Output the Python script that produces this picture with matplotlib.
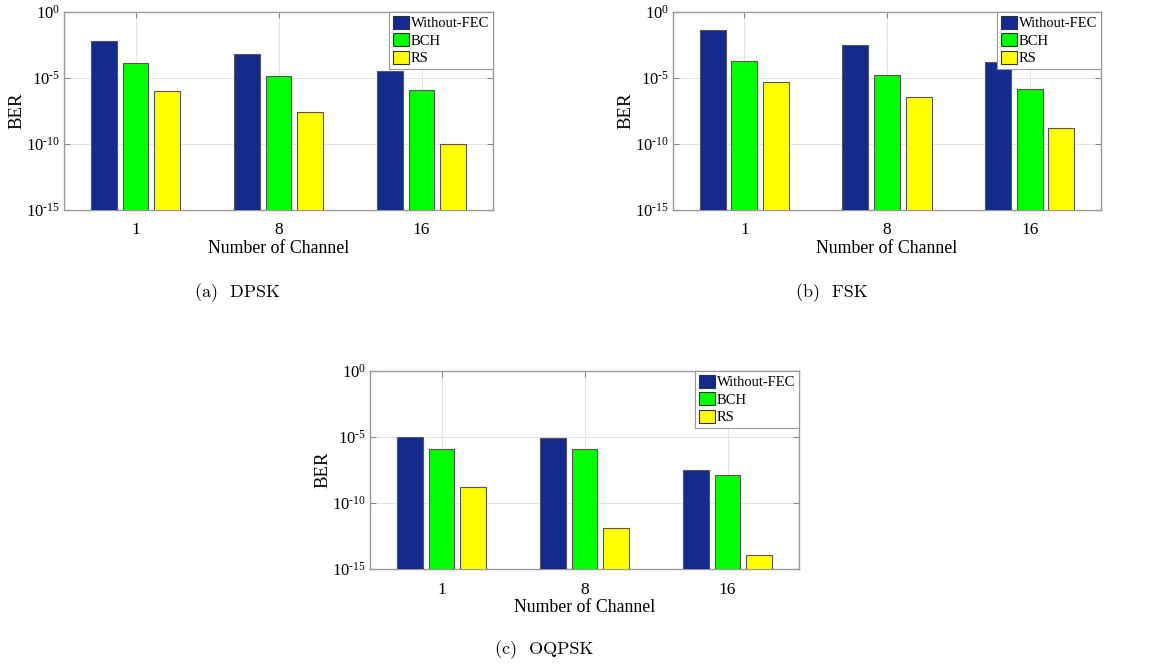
import numpy as np
import matplotlib
matplotlib.use("Agg")
import matplotlib.pyplot as plt
from matplotlib.ticker import FuncFormatter, NullLocator

plt.rcParams['font.family'] = ['Liberation Serif', 'DejaVu Serif']
plt.rcParams['mathtext.fontset'] = 'custom'
plt.rcParams['mathtext.rm'] = 'Liberation Serif'
plt.rcParams['mathtext.it'] = 'Liberation Serif:italic'

# data (BER, log scale)
channels = ['1', '8', '16']
series = ['Without-FEC', 'BCH', 'RS']

dpsk_nofec = [6e-3, 7e-4, 3.5e-5]
dpsk_bch = [1.3e-4, 1.4e-5, 1.3e-6]
dpsk_rs = [1e-6, 2.5e-8, 1e-10]

fsk_nofec = [4e-2, 3e-3, 1.5e-4]
fsk_bch = [2e-4, 1.7e-5, 1.4e-6]
fsk_rs = [4.6e-6, 3.4e-7, 1.7e-9]

oqpsk_nofec = [9.5e-6, 8.4e-6, 3.2e-8]
oqpsk_bch = [1.25e-6, 1.25e-6, 1.25e-8]
oqpsk_rs = [1.5e-9, 1.3e-12, 1.2e-14]

colors = ['#142A8C', '#00FF00', '#FFFF00']

W, H = 1163, 667
fig = plt.figure(figsize=(W / 100, H / 100), dpi=100)


def px_axes(left, top, right, bottom):
    return fig.add_axes([left / W, 1 - bottom / H, (right - left) / W, (bottom - top) / H])


def pow10(v, pos):
    e = int(round(np.log10(v)))
    if e < 0:
        return r'$10^{\text{-}%d}$' % (-e)
    return r'$10^{%d}$' % e


def draw_panel(ax, groups):
    x = np.arange(len(channels)) + 1
    offsets = [-0.222, 0.0, 0.222]
    for vals, off, col, name in zip(groups, offsets, colors, series):
        ax.bar(x + off, vals, width=0.18, color=col, edgecolor='#555555',
               linewidth=0.8, label=name, zorder=3)
    ax.set_yscale('log')
    ax.set_ylim(1e-15, 1)
    ax.set_xlim(0.5, 3.5)
    ax.set_xticks(x)
    ax.set_xticklabels(channels)
    ax.set_yticks([1e-15, 1e-10, 1e-5, 1])
    ax.yaxis.set_major_formatter(FuncFormatter(pow10))
    ax.yaxis.set_minor_locator(NullLocator())
    ax.tick_params(direction='in', top=True, right=True, length=4,
                   color='#888888')
    ax.tick_params(axis='x', labelsize=12.5, pad=9)
    ax.tick_params(axis='y', labelsize=12, pad=3)
    ax.grid(True, color='#E4E4E4', linewidth=0.7, zorder=0)
    ax.set_axisbelow(True)
    for s in ax.spines.values():
        s.set_color('#999999')
        s.set_linewidth(1.0)
    ax.set_xlabel('Number of Channel', fontsize=12.8, labelpad=1)
    ax.set_ylabel('BER', fontsize=13.5)
    ax.yaxis.set_label_coords(-39 / 429, 0.5)
    leg = ax.legend(loc='upper right', borderaxespad=0, fancybox=False,
                    edgecolor='#999999', framealpha=1, fontsize=10.5,
                    handlelength=1.1, handleheight=1.0, handletextpad=0.15,
                    labelspacing=0.2, borderpad=0.25)
    leg.get_frame().set_linewidth(0.8)
    for h in leg.legend_handles:
        h.set_edgecolor('#333333')


ax_a = px_axes(64, 12, 493, 210)
draw_panel(ax_a, [dpsk_nofec, dpsk_bch, dpsk_rs])
ax_b = px_axes(673, 12, 1101, 210)
draw_panel(ax_b, [fsk_nofec, fsk_bch, fsk_rs])
ax_c = px_axes(370, 371, 799, 569)
draw_panel(ax_c, [oqpsk_nofec, oqpsk_bch, oqpsk_rs])

cap_font = dict(family='cmr10', fontsize=13, ha='center', va='center')
fig.text(237 / W, 1 - 293 / H, '(a)  DPSK', **cap_font)
fig.text(832 / W, 1 - 293 / H, '(b)  FSK', **cap_font)
fig.text(544 / W, 1 - 650 / H, '(c)  OQPSK', **cap_font)

fig.savefig('out.png', dpi=100)
